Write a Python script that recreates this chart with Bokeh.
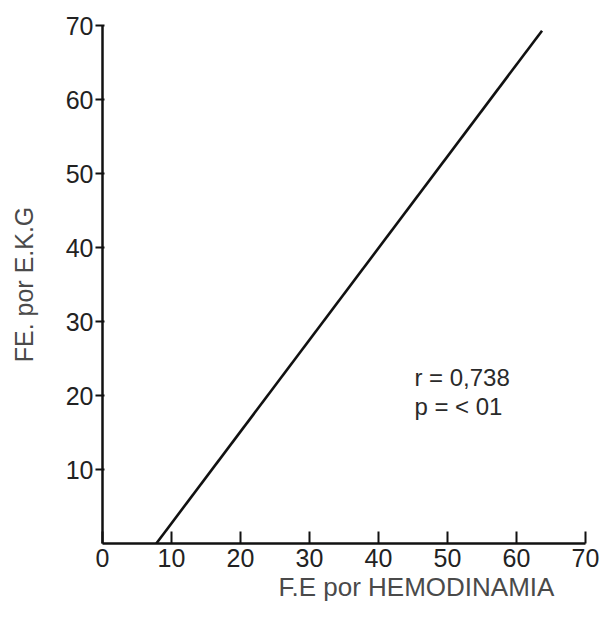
from bokeh.plotting import figure
from bokeh.models import Range1d, FixedTicker, Title, Label
from bokeh.embed import file_html
from bokeh.resources import INLINE

# ---- data ----
x_ticks = [0, 10, 20, 30, 40, 50, 60, 70]
y_ticks = [10, 20, 30, 40, 50, 60, 70]
fe_hemodinamia = [7.8, 63.7]   # regression line, x values
fe_ekg = [0.0, 69.3]           # regression line, y values
stats_lines = ["r = 0,738", "p = < 01"]
x_title = "F.E por HEMODINAMIA"
y_title = "FE. por E.K.G"

FONT = "Liberation Sans"

p = figure(width=600, height=608, output_backend="svg", toolbar_location=None,
           x_range=Range1d(0, 70), y_range=Range1d(0, 70),
           min_border_left=102, min_border_right=15, min_border_top=25, min_border_bottom=65)
p.outline_line_color = None
p.xgrid.visible = False
p.ygrid.visible = False
p.background_fill_color = "white"

p.line(fe_hemodinamia, fe_ekg, line_color="#111111", line_width=2.6)

# axes
xa = p.xaxis[0]
ya = p.yaxis[0]
xa.ticker = FixedTicker(ticks=x_ticks)
ya.ticker = FixedTicker(ticks=y_ticks)
for ax in (xa, ya):
    ax.axis_line_color = "#111111"
    ax.axis_line_width = 2.5
    ax.major_tick_line_color = "#111111"
    ax.major_tick_line_width = 2
    ax.minor_tick_line_color = None
    ax.major_label_text_font = FONT
    ax.major_label_text_font_size = "25px"
    ax.major_label_text_color = "#222222"

xa.major_tick_in = 12
xa.major_tick_out = 0
xa.major_label_standoff = 5
ya.major_tick_in = 2
ya.major_tick_out = 7
ya.major_label_standoff = 2

ya.axis_label = y_title
ya.axis_label_text_font = FONT
ya.axis_label_text_font_size = "25px"
ya.axis_label_text_font_style = "normal"
ya.axis_label_text_color = "#4a4a4a"
ya.axis_label_standoff = 25

t = Title(text=x_title, align="left", offset=176, text_font=FONT,
          text_font_size="26px", text_font_style="normal", text_color="#4a4a4a",
          standoff=0)
p.add_layout(t, "below")

for i, s in enumerate(stats_lines):
    p.add_layout(Label(x=45.2, y=22.5 - 4.0 * i, text=s, text_font=FONT,
                       text_font_size="24px", text_color="#2a2a2a",
                       text_baseline="alphabetic", text_align="left"))

open("out.html", "w").write(file_html(p, INLINE))
